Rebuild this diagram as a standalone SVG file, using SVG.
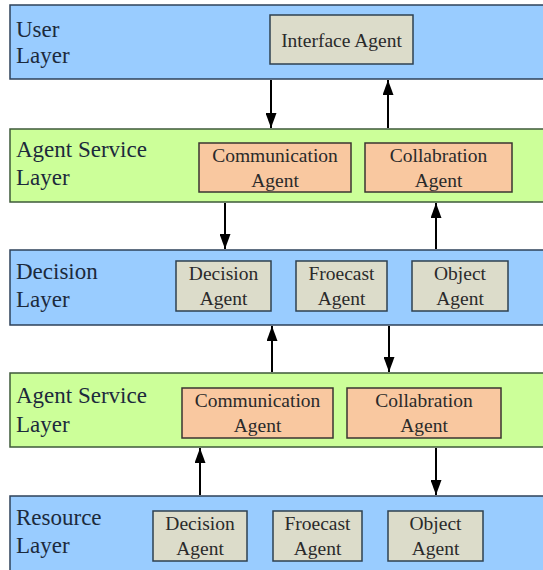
<svg xmlns="http://www.w3.org/2000/svg" width="543" height="570" viewBox="0 0 543 570">
<style>
.blue{fill:#99CCFF;stroke:#2E4159;stroke-width:1.5}
.green{fill:#CCFF99;stroke:#3E5A3A;stroke-width:1.5}
.orange{fill:#F9C8A0;stroke:#3A3530;stroke-width:1.5}
.gray{fill:#DCDCCA;stroke:#2E4050;stroke-width:1.5}
text{font-family:"Liberation Serif","DejaVu Serif","Noto Serif",Tinos,"Times New Roman","Nimbus Roman","FreeSerif",Georgia,serif}
.lbl{font-size:23px;fill:#1C2A3C}
.bt{font-size:19.5px;fill:#2A2A2A;text-anchor:middle}
.conn line{stroke:#000;stroke-width:2}
</style>
<defs>
<marker id="ahl" viewBox="0 0 15 11" refX="15" refY="5.5" markerWidth="15" markerHeight="11" markerUnits="userSpaceOnUse" orient="auto">
<path d="M0,0 L15,5.5 L0,11 z" fill="#000"/>
</marker>
</defs>

<g id="user-layer">
<rect class="blue" x="10" y="5" width="545" height="74"/>
<text class="lbl" x="16" y="37">User</text>
<text class="lbl" x="16" y="63">Layer</text>
</g>
<g id="interface-agent">
<rect class="gray" x="270" y="15" width="143" height="49"/>
<text class="bt" x="341.5" y="47">Interface Agent</text>
</g>

<g id="agent-service-layer-1">
<rect class="green" x="10" y="129" width="545" height="73"/>
<text class="lbl" x="16" y="157">Agent Service</text>
<text class="lbl" x="16" y="185">Layer</text>
</g>
<g id="communication-agent-1">
<rect class="orange" x="199" y="143" width="152" height="49"/>
<text class="bt" x="275" y="162">Communication</text>
<text class="bt" x="275" y="187">Agent</text>
</g>
<g id="collabration-agent-1">
<rect class="orange" x="365" y="143" width="147" height="49"/>
<text class="bt" x="438.5" y="162">Collabration</text>
<text class="bt" x="438.5" y="187">Agent</text>
</g>

<g id="decision-layer">
<rect class="blue" x="10" y="250" width="545" height="75"/>
<text class="lbl" x="16" y="279">Decision</text>
<text class="lbl" x="16" y="307">Layer</text>
</g>
<g id="decision-agent-1">
<rect class="gray" x="176" y="261" width="95" height="50"/>
<text class="bt" x="223.5" y="280">Decision</text>
<text class="bt" x="223.5" y="305">Agent</text>
</g>
<g id="froecast-agent-1">
<rect class="gray" x="296" y="261" width="91" height="50"/>
<text class="bt" x="341.5" y="280">Froecast</text>
<text class="bt" x="341.5" y="305">Agent</text>
</g>
<g id="object-agent-1">
<rect class="gray" x="412" y="261" width="96" height="50"/>
<text class="bt" x="460" y="280">Object</text>
<text class="bt" x="460" y="305">Agent</text>
</g>

<g id="agent-service-layer-2">
<rect class="green" x="10" y="373" width="545" height="74"/>
<text class="lbl" x="16" y="403">Agent Service</text>
<text class="lbl" x="16" y="432">Layer</text>
</g>
<g id="communication-agent-2">
<rect class="orange" x="182" y="388" width="151" height="50"/>
<text class="bt" x="257.5" y="407">Communication</text>
<text class="bt" x="257.5" y="432">Agent</text>
</g>
<g id="collabration-agent-2">
<rect class="orange" x="347" y="388" width="154" height="50"/>
<text class="bt" x="424" y="407">Collabration</text>
<text class="bt" x="424" y="432">Agent</text>
</g>

<g id="resource-layer">
<rect class="blue" x="10" y="496" width="545" height="80"/>
<text class="lbl" x="16" y="525">Resource</text>
<text class="lbl" x="16" y="553">Layer</text>
</g>
<g id="decision-agent-2">
<rect class="gray" x="153" y="511" width="94" height="50"/>
<text class="bt" x="200" y="530">Decision</text>
<text class="bt" x="200" y="555">Agent</text>
</g>
<g id="froecast-agent-2">
<rect class="gray" x="273" y="511" width="89" height="50"/>
<text class="bt" x="317.5" y="530">Froecast</text>
<text class="bt" x="317.5" y="555">Agent</text>
</g>
<g id="object-agent-2">
<rect class="gray" x="388" y="511" width="95" height="50"/>
<text class="bt" x="435.5" y="530">Object</text>
<text class="bt" x="435.5" y="555">Agent</text>
</g>

<g id="connectors" class="conn">
<line x1="271" y1="80" x2="271" y2="128" marker-end="url(#ahl)"/>
<line x1="388" y1="128" x2="388" y2="80" marker-end="url(#ahl)"/>
<line x1="225" y1="203" x2="225" y2="249" marker-end="url(#ahl)"/>
<line x1="436" y1="249" x2="436" y2="203" marker-end="url(#ahl)"/>
<line x1="272" y1="372" x2="272" y2="326" marker-end="url(#ahl)"/>
<line x1="389" y1="326" x2="389" y2="372" marker-end="url(#ahl)"/>
<line x1="200" y1="495" x2="200" y2="448" marker-end="url(#ahl)"/>
<line x1="436" y1="448" x2="436" y2="495" marker-end="url(#ahl)"/>
</g>
</svg>
